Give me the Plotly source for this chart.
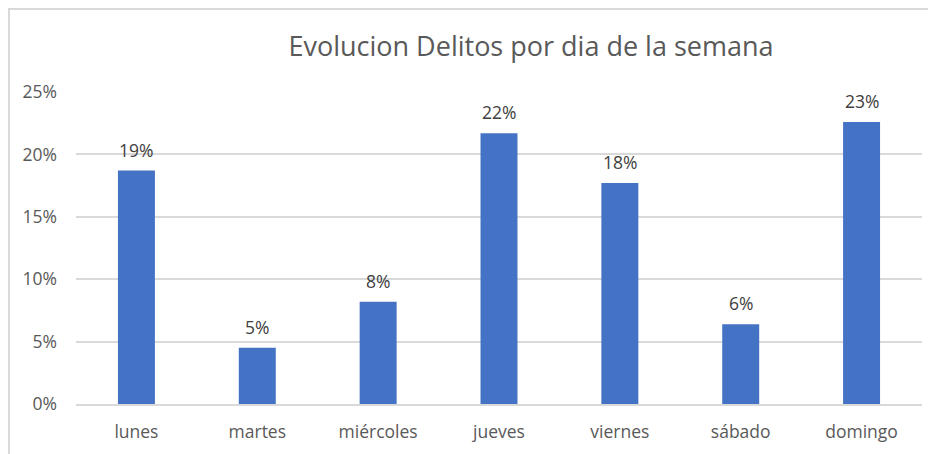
import plotly.graph_objects as go

categories = ["lunes", "martes", "miércoles", "jueves", "viernes", "sábado", "domingo"]
values = [0.187, 0.045, 0.082, 0.217, 0.177, 0.064, 0.226]
tick_vals = [0, 0.05, 0.10, 0.15, 0.20, 0.25]
tick_text = ["0%", "5%", "10%", "15%", "20%", "25%"]

font_family = "'Open Sans', sans-serif"

# page body has an 8px margin, so the figure is drawn at (8, 8)
W, H = 928, 446
ML, MR, MT, MB = 68, 14, 84, 50
PW, PH = W - ML - MR, H - MT - MB

fig = go.Figure(go.Bar(
    x=categories, y=values,
    marker=dict(color="#4472C4", line=dict(width=0)),
))

annotations = [
    dict(x=c, y=v, xref="x", yref="y", text=f"{int(v * 100 + 0.5 + 1e-9)}%", showarrow=False,
         yanchor="middle", yshift=21,
         font=dict(family=font_family, size=17.5, color="#404040"))
    for c, v in zip(categories, values)
]

fig.update_layout(
    width=W, height=H,
    margin=dict(l=ML, r=MR, t=MT, b=MB, autoexpand=False),
    paper_bgcolor="white", plot_bgcolor="white",
    bargap=0.694,
    showlegend=False,
    annotations=annotations,
    title=dict(text="Evolucion Delitos por dia de la semana", x=(531 - 8) / W, xanchor="center",
               y=1 - (47 - 8) / H, yanchor="middle", automargin=False,
               font=dict(family=font_family, size=27, color="#595959")),
    font=dict(family=font_family, color="#595959", size=17.5),
    shapes=[
        dict(type="line", xref="paper", yref="paper", x0=(1 - ML) / PW, x1=(1 - ML) / PW,
             y0=-MB / PH, y1=(PH + MT) / PH, line=dict(color="#d9d9d9", width=2)),
        dict(type="line", xref="paper", yref="paper", x0=-ML / PW, x1=(W - ML) / PW,
             y0=(PH + MT - 1) / PH, y1=(PH + MT - 1) / PH, line=dict(color="#d9d9d9", width=2)),
    ],
)
fig.update_xaxes(showgrid=False, showline=True, linecolor="#d9d9d9", linewidth=1.5,
                 ticks="", ticklabelstandoff=11, automargin=False,
                 tickfont=dict(family=font_family, size=17.5, color="#595959"))
fig.update_yaxes(range=[0, 0.25], tickvals=tick_vals, ticktext=tick_text,
                 showgrid=True, gridcolor="#d9d9d9", gridwidth=1.5, zeroline=False,
                 ticks="", ticklabelstandoff=18, automargin=False,
                 tickfont=dict(family=font_family, size=17.5, color="#595959"))

fig.write_html("out.html")
